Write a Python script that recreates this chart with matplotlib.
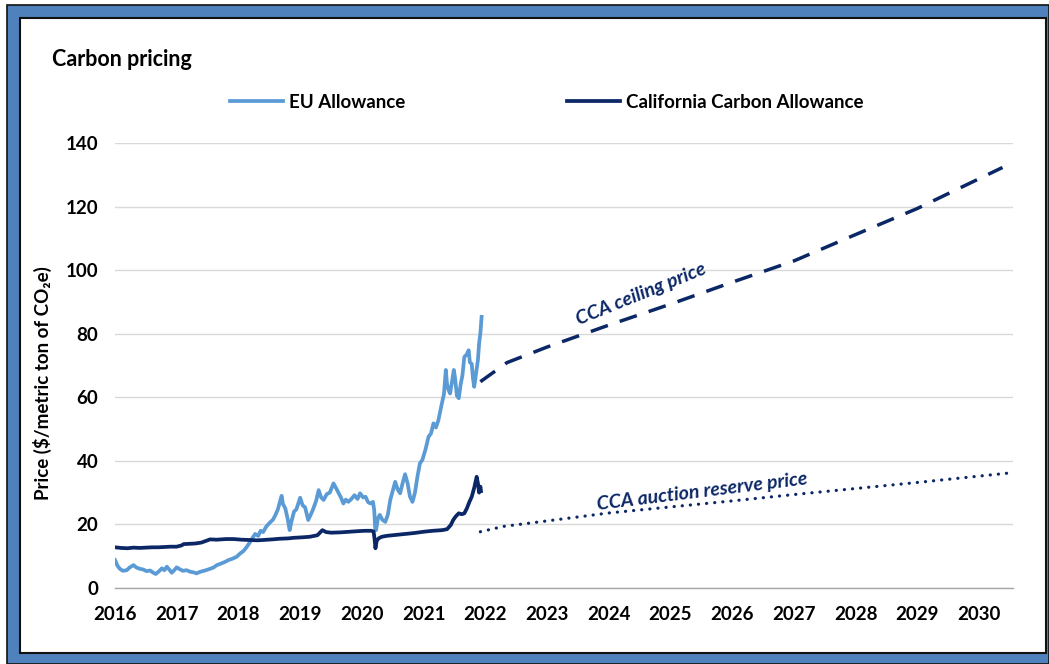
import matplotlib
matplotlib.use('Agg')
import matplotlib.pyplot as plt
from matplotlib.patches import Rectangle

# EU Allowance price, $/t (x in decimal years)
eu_year = [2016.00, 2016.04, 2016.08, 2016.13, 2016.19, 2016.24, 2016.30, 2016.35, 2016.41, 2016.46,
           2016.51, 2016.57, 2016.62, 2016.66, 2016.71, 2016.76, 2016.80, 2016.84, 2016.88, 2016.92,
           2016.96, 2017.00, 2017.05, 2017.10, 2017.16, 2017.22, 2017.28, 2017.32, 2017.38, 2017.44,
           2017.49, 2017.55, 2017.60, 2017.65, 2017.72, 2017.78, 2017.84, 2017.90, 2017.97, 2018.03,
           2018.08, 2018.13, 2018.19, 2018.23, 2018.27, 2018.32, 2018.36, 2018.40, 2018.45, 2018.51,
           2018.56, 2018.60, 2018.64, 2018.67, 2018.70, 2018.72, 2018.76, 2018.80, 2018.83, 2018.86,
           2018.90, 2018.94, 2019.00, 2019.04, 2019.08, 2019.13, 2019.17, 2019.21, 2019.26, 2019.30,
           2019.34, 2019.38, 2019.43, 2019.48, 2019.54, 2019.58, 2019.62, 2019.66, 2019.70, 2019.74,
           2019.78, 2019.83, 2019.88, 2019.93, 2019.97, 2020.02, 2020.06, 2020.10, 2020.14, 2020.18,
           2020.20, 2020.215, 2020.23, 2020.26, 2020.29, 2020.33, 2020.38, 2020.42, 2020.46, 2020.50,
           2020.54, 2020.58, 2020.62, 2020.66, 2020.70, 2020.74, 2020.78, 2020.82, 2020.86, 2020.90,
           2020.94, 2020.98, 2021.03, 2021.08, 2021.12, 2021.16, 2021.20, 2021.24, 2021.29, 2021.33,
           2021.36, 2021.38, 2021.41, 2021.43, 2021.46, 2021.49, 2021.51, 2021.54, 2021.57, 2021.60,
           2021.63, 2021.66, 2021.70, 2021.73, 2021.75, 2021.78, 2021.80, 2021.82, 2021.85, 2021.88,
           2021.90, 2021.92, 2021.94]
eu_price = [8.8, 7.0, 6.0, 5.4, 5.6, 6.5, 7.2, 6.4, 6.0, 5.8,
            5.3, 5.5, 4.8, 4.4, 5.2, 6.2, 5.6, 6.7, 5.8, 4.8,
            5.6, 6.5, 5.9, 5.4, 5.6, 5.1, 4.9, 4.6, 5.1, 5.4,
            5.7, 6.1, 6.5, 7.2, 7.7, 8.2, 8.8, 9.2, 9.8, 10.9,
            11.6, 12.8, 14.5, 15.8, 17.0, 16.4, 18.0, 17.6, 19.3, 20.6,
            21.5, 23.0, 24.8, 27.0, 29.0, 26.5, 25.0, 21.5, 18.2, 21.0,
            24.0, 24.8, 28.4, 26.0, 25.4, 21.4, 23.0, 24.8, 27.5, 30.8,
            28.5, 27.7, 29.5, 30.0, 32.9, 31.5, 30.0, 28.5, 26.6, 27.8,
            27.1, 28.0, 29.2, 28.0, 29.8, 28.5, 28.7, 27.0, 26.6, 27.1,
            24.5, 19.0, 18.2, 22.0, 23.0, 21.5, 20.8, 23.0, 27.7, 30.5,
            33.4, 31.0, 29.8, 33.0, 35.8, 33.0, 28.7, 27.1, 30.0, 35.0,
            39.2, 40.3, 43.5, 47.6, 48.6, 51.8, 50.5, 52.8, 57.5, 61.0,
            68.6, 64.0, 62.0, 61.2, 65.0, 68.6, 66.0, 60.5, 59.7, 64.0,
            67.0, 72.7, 73.5, 74.8, 71.0, 70.5, 66.0, 63.3, 67.5, 71.7,
            77.0, 80.1, 85.3]

# California Carbon Allowance price, $/t
cca_year = [2016.00, 2016.10, 2016.20, 2016.30, 2016.40, 2016.50, 2016.60, 2016.70, 2016.80, 2016.90,
            2017.00, 2017.08, 2017.11, 2017.20, 2017.30, 2017.40, 2017.50, 2017.54, 2017.65, 2017.80,
            2017.92, 2018.05, 2018.19, 2018.30, 2018.40, 2018.55, 2018.67, 2018.80, 2018.90, 2019.00,
            2019.15, 2019.28, 2019.33, 2019.36, 2019.42, 2019.50, 2019.65, 2019.80, 2019.95, 2020.05,
            2020.15, 2020.19, 2020.205, 2020.22, 2020.24, 2020.27, 2020.32, 2020.40, 2020.55, 2020.70,
            2020.85, 2021.00, 2021.15, 2021.30, 2021.38, 2021.44, 2021.48, 2021.52, 2021.57, 2021.62,
            2021.66, 2021.70, 2021.74, 2021.78, 2021.82, 2021.86, 2021.88, 2021.90, 2021.92, 2021.93]
cca_price = [12.8, 12.6, 12.5, 12.7, 12.6, 12.7, 12.8, 12.8, 12.9, 13.0,
             13.0, 13.4, 13.8, 13.9, 14.0, 14.3, 15.0, 15.3, 15.2, 15.4,
             15.4, 15.2, 15.1, 15.0, 15.1, 15.3, 15.5, 15.6, 15.8, 15.9,
             16.1, 16.6, 17.6, 18.2, 17.6, 17.4, 17.5, 17.7, 17.9, 18.0,
             18.0, 17.8, 15.5, 12.5, 14.8, 15.6, 16.1, 16.4, 16.7, 17.0,
             17.3, 17.7, 18.0, 18.2, 18.5, 19.8, 21.4, 22.5, 23.5, 23.2,
             23.5, 25.0, 27.0, 28.7, 31.5, 35.0, 33.0, 30.0, 31.9, 30.5]

# CCA price ceiling (projected)
ceiling_year = [2021.92, 2022.35, 2023.0, 2024.0, 2025.0, 2026.0, 2027.0, 2028.0, 2029.0, 2030.38]
ceiling_price = [64.9, 70.9, 75.8, 82.7, 89.3, 96.2, 102.9, 111.2, 119.4, 132.3]

# CCA auction reserve price (projected)
reserve_year = [2021.92, 2022.3, 2023.0, 2024.0, 2025.0, 2026.0, 2027.0, 2028.0, 2029.0, 2030.45]
reserve_price = [17.7, 19.4, 21.1, 23.6, 25.5, 27.4, 29.4, 31.3, 33.2, 36.1]

year_ticks = list(range(2016, 2031))
price_ticks = [0, 20, 40, 60, 80, 100, 120, 140]

EU_COLOR = '#5B9BD5'
NAVY = '#0B2766'

plt.rcParams['font.family'] = ['Lato', 'DejaVu Sans']

W, H = 1049, 664
fig = plt.figure(figsize=(W / 100, H / 100), dpi=100)

# blue frame around the chart
fig.add_artist(Rectangle((7 / W, 0), 1 - 7 / W, 1 - 5 / H, transform=fig.transFigure,
                         facecolor='#4F81BD', edgecolor='#111111', lw=1.2, zorder=-3))
fig.add_artist(Rectangle((20 / W, 11 / H), (1046 - 20) / W, (653 - 18) / H, transform=fig.transFigure,
                         facecolor='white', edgecolor='#111111', lw=1.5, zorder=-2))

ax = fig.add_axes([115 / W, (H - 588) / H, (1013 - 115) / W, (588 - 143) / H])
ax.set_facecolor('white')

eu_line, = ax.plot(eu_year, eu_price, color=EU_COLOR, lw=2.7, label='EU Allowance',
                   solid_joinstyle='round', zorder=3)
cca_line, = ax.plot(cca_year, cca_price, color=NAVY, lw=2.7, label='California Carbon Allowance',
                    solid_joinstyle='round', zorder=4)
ax.plot(ceiling_year, ceiling_price, color=NAVY, lw=2.5, linestyle=(0, (5.2, 3.6)),
        dash_capstyle='butt', zorder=3)
ax.plot(reserve_year, reserve_price, color=NAVY, lw=2.3, linestyle=(0, (0.05, 2.5)),
        dash_capstyle='round', zorder=3)

ax.text(2024.52, 92.6, 'CCA ceiling price', rotation=22, color=NAVY, fontsize=14,
        fontweight='bold', fontstyle='italic', ha='center', va='center')
ax.text(2025.51, 30.4, 'CCA auction reserve price', rotation=7, color=NAVY, fontsize=14,
        fontweight='bold', fontstyle='italic', ha='center', va='center')

ax.set_xlim(2016, 2030.55)
ax.set_ylim(0, 140)
ax.set_xticks(year_ticks)
ax.set_xticklabels([str(y) for y in year_ticks])
ax.set_yticks(price_ticks)
ax.tick_params(axis='both', length=0, labelsize=13.5)
ax.tick_params(axis='x', pad=13)
ax.tick_params(axis='y', pad=12)
for lbl in ax.get_xticklabels() + ax.get_yticklabels():
    lbl.set_fontweight('bold')

ax.grid(axis='y', color='#D9D9D9', lw=1.0)
ax.set_axisbelow(True)
for side in ['top', 'right', 'left']:
    ax.spines[side].set_visible(False)
ax.spines['bottom'].set_color('#A6A6A6')
ax.spines['bottom'].set_linewidth(1.0)

fig.text(52 / W, 1 - 60 / H, 'Carbon pricing', fontsize=15.5, fontweight='bold', ha='left', va='center')
fig.text(42 / W, 1 - 383 / H, 'Price ($/metric ton of CO\u2082e)', rotation=90, fontsize=13.5,
         fontweight='bold', ha='center', va='center')

fig.legend(handles=[eu_line, cca_line], loc='center left', bbox_to_anchor=(230 / W, 1 - 102 / H),
           ncol=2, frameon=False, borderpad=0, borderaxespad=0, handlelength=2.85,
           handletextpad=0.3, columnspacing=8.6, prop={'weight': 'bold', 'size': 13.5})

fig.savefig('out.png', dpi=100)
